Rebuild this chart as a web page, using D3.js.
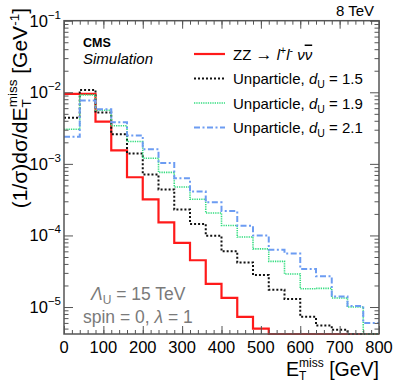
<!DOCTYPE html>
<html>
<head>
<meta charset="utf-8">
<script src="https://cdn.jsdelivr.net/npm/d3@7"></script>
<style>
body { margin: 0; background: #fff; }
svg { display: block; font-family: "Liberation Sans", Arial, Helvetica, sans-serif; }
</style>
</head>
<body>
<script>
// bin edges in GeV (40 GeV bins)
var binEdges = [0, 40, 80, 120, 160, 200, 240, 280, 320, 360, 400, 440, 480, 520, 560, 600, 640, 680, 720, 760, 800]

// normalised distributions, one value per bin (0 = nothing in the bin)
var zzValues = [9.5e-3, 9.5e-3, 3.9e-3, 1.54e-3, 6.5e-4, 3.2e-4, 1.52e-4, 7.9e-5, 4.5e-5, 2.1e-5, 1.34e-5, 7.3e-6, 5.0e-6, 0, 0, 0, 0, 0, 0, 0]
var unp15Values = [4.4e-3, 1.08e-2, 5.2e-3, 2.6e-3, 1.4e-3, 7.1e-4, 4.4e-4, 2.3e-4, 1.45e-4, 9.9e-5, 6.0e-5, 4.2e-5, 2.8e-5, 1.75e-5, 1.3e-5, 7.3e-6, 5.5e-6, 4.8e-6, 0, 0]
var unp19Values = [3.05e-3, 9.2e-3, 5.6e-3, 3.4e-3, 2.05e-3, 1.2e-3, 7.6e-4, 4.75e-4, 3.2e-4, 2.06e-4, 1.38e-4, 9.5e-5, 6.5e-5, 4.35e-5, 2.9e-5, 1.8e-5, 1.82e-5, 1.34e-5, 1.0e-5, 0]
var unp21Values = [2.4e-3, 7.7e-3, 5.8e-3, 3.8e-3, 2.5e-3, 1.6e-3, 1.03e-3, 6.3e-4, 4.1e-4, 2.9e-4, 2.2e-4, 1.37e-4, 1.0e-4, 6.3e-5, 5.6e-5, 3.4e-5, 2.7e-5, 1.4e-5, 1.03e-5, 6.0e-6]

var xTicks = [0, 100, 200, 300, 400, 500, 600, 700, 800]
var yDecades = [-1, -2, -3, -4, -5]

var width = 399, height = 385
// frame edges (window.top is reserved, so prefixed names)
var frameL = 64, frameR = 379, frameT = 20.7, frameB = 334
var axisColor = "#555"

var svg = d3.select("body")
.append("svg")
.attr("width", width)
.attr("height", height)

var xScale = d3.scaleLinear()
.domain([0, 800])
.range([frameL, frameR])

var yScale = d3.scaleLog()
.domain([4.2e-6, 0.1])
.range([frameB, frameT])

svg.append("defs").append("clipPath")
	.attr("id", "plotClip")
	.append("rect")
		.attr("x", frameL)
		.attr("y", frameT - 1)
		.attr("width", frameR - frameL)
		.attr("height", frameB - frameT + 2)

function yOf(v) {
	// empty bins are drawn on the bottom edge like ROOT does
	if (v <= 0 || v < yScale.domain()[0]) return frameB
	return yScale(v)
}

function stepPoints(values) {
	var pts = []
	values.forEach(function(v, i) {
		pts.push([xScale(binEdges[i]), yOf(v)])
		pts.push([xScale(binEdges[i + 1]), yOf(v)])
	})
	return pts
}

var series = [
	{values: zzValues, color: "#ff1a1a", width: 2.2, dash: null},
	{values: unp15Values, color: "#111", width: 2, dash: "2,2"},
	{values: unp19Values, color: "#35dd80", width: 1.6, dash: "1.3,1"},
	{values: unp21Values, color: "#6c9cf2", width: 2, dash: "6,2.5,2,2.5"}
]

var line = d3.line()

svg.append("g")
.attr("clip-path", "url(#plotClip)")
.selectAll("path")
.data(series)
.enter()
.append("path")
.attr("d", function(s) { return line(stepPoints(s.values)) })
.attr("fill", "none")
.attr("stroke", function(s) { return s.color })
.attr("stroke-width", function(s) { return s.width })
.attr("stroke-dasharray", function(s) { return s.dash })

//axes: bottom/top and left/right with ROOT style ticks inside the frame
var xMinor = d3.range(0, 801, 20)
var bottomAxis = d3.axisBottom(xScale).tickValues(xTicks).tickSize(-8).tickFormat("")
var topAxis = d3.axisTop(xScale).tickValues(xTicks).tickSize(-8).tickFormat("")
var bottomMinor = d3.axisBottom(xScale).tickValues(xMinor).tickSize(-4).tickFormat("")
var topMinor = d3.axisTop(xScale).tickValues(xMinor).tickSize(-4).tickFormat("")

var yMajor = yDecades.map(function(d) { return Math.pow(10, d) })
var yMinor = []
for (var e = -6; e < -1; e++) {
	for (var m = 2; m < 10; m++) {
		var v = m * Math.pow(10, e)
		if (v >= yScale.domain()[0] && v <= 0.1) yMinor.push(v)
	}
}
var leftAxis = d3.axisLeft(yScale).tickValues(yMajor).tickSize(-9).tickFormat("")
var rightAxis = d3.axisRight(yScale).tickValues(yMajor).tickSize(-9).tickFormat("")
var leftMinor = d3.axisLeft(yScale).tickValues(yMinor).tickSize(-4.5).tickFormat("")
var rightMinor = d3.axisRight(yScale).tickValues(yMinor).tickSize(-4.5).tickFormat("")

function addAxis(ax, tx, ty) {
	var g = svg.append("g")
	.attr("transform", "translate(" + tx + "," + ty + ")")
	.call(ax)
	g.select(".domain").remove()
	g.selectAll("line").attr("stroke", axisColor).attr("stroke-width", 1)
}
addAxis(bottomAxis, 0, frameB)
addAxis(bottomMinor, 0, frameB)
addAxis(topAxis, 0, frameT)
addAxis(topMinor, 0, frameT)
addAxis(leftAxis, frameL, 0)
addAxis(leftMinor, frameL, 0)
addAxis(rightAxis, frameR, 0)
addAxis(rightMinor, frameR, 0)

svg.append("rect")
.attr("x", frameL)
.attr("y", frameT)
.attr("width", frameR - frameL)
.attr("height", frameB - frameT)
.attr("fill", "none")
.attr("stroke", axisColor)
.attr("stroke-width", 1.5)

//tick labels
svg.selectAll(".xLabel")
.data(xTicks)
.enter()
.append("text")
.attr("class", "xLabel")
.attr("x", function(d) { return xScale(d) })
.attr("y", 353)
.attr("text-anchor", "middle")
.attr("font-size", 16.5)
.text(function(d) { return d })

var yLabels = svg.selectAll(".yLabel")
.data(yDecades)
.enter()
.append("text")
.attr("class", "yLabel")
.attr("x", 61)
.attr("y", function(d) { return yScale(Math.pow(10, d)) + 6 })
.attr("text-anchor", "end")
.attr("font-size", 16.5)
yLabels.append("tspan").text("10")
yLabels.append("tspan")
.attr("font-size", 11.5)
.attr("dy", -8)
.text(function(d) { return "\u2212" + (-d) })

//axis titles
var xTitle = svg.append("text")
.attr("x", frameR)
.attr("y", 375.5)
.attr("text-anchor", "end")
.attr("font-size", 19.5)
xTitle.append("tspan").text("E")
xTitle.append("tspan").attr("font-size", 12).attr("dy", 4).text("T")
xTitle.append("tspan").attr("font-size", 12).attr("dx", -7.3).attr("dy", -13).text("miss")
xTitle.append("tspan").attr("dy", 9).text(" [GeV]")

var yTitle = svg.append("text")
.attr("transform", "translate(26.5,8) rotate(-90)")
.attr("text-anchor", "end")
.attr("font-size", 21)
yTitle.append("tspan").text("(1/\u03c3)d\u03c3/dE")
yTitle.append("tspan").attr("font-size", 13.5).attr("dy", 4).text("T")
yTitle.append("tspan").attr("font-size", 13.5).attr("dx", -8).attr("dy", -14).text("miss")
yTitle.append("tspan").attr("dy", 10).text(" [GeV")
yTitle.append("tspan").attr("font-size", 13.5).attr("dy", -8).text("-1")
yTitle.append("tspan").attr("dy", 8).text("]")

//labels
svg.append("text")
.attr("x", 374)
.attr("y", 15.5)
.attr("text-anchor", "end")
.attr("font-size", 15)
.text("8 TeV")

svg.append("text")
.attr("x", 83)
.attr("y", 47)
.attr("font-size", 12.5)
.attr("font-weight", "bold")
.text("CMS")

svg.append("text")
.attr("x", 83)
.attr("y", 64)
.attr("font-size", 15)
.attr("font-style", "italic")
.text("Simulation")

var lam = svg.append("text")
.attr("x", 91)
.attr("y", 300)
.attr("font-size", 17.5)
.attr("fill", "#7a7a7a")
lam.append("tspan").attr("font-style", "italic").text("\u039b")
lam.append("tspan").attr("font-size", 12).attr("dy", 4).text("U")
lam.append("tspan").attr("dy", -4).text(" = 15 TeV")

var spin = svg.append("text")
.attr("x", 83)
.attr("y", 323)
.attr("font-size", 17.5)
.attr("fill", "#7a7a7a")
spin.append("tspan").text("spin = 0, ")
spin.append("tspan").attr("font-style", "italic").text("\u03bb")
spin.append("tspan").text(" = 1")

//legend
var legendNames = ["zz", "1.5", "1.9", "2.1"]
var legendY = [54, 78.5, 103, 127.5]

var legend = svg.selectAll(".legendItem")
.data(series)
.enter()
.append("g")
.attr("class", "legendItem")
.attr("transform", function(s, i) { return "translate(0," + legendY[i] + ")" })

legend.append("line")
.attr("x1", 194)
.attr("x2", 225)
.attr("stroke", function(s) { return s.color })
.attr("stroke-width", function(s) { return s.width })
.attr("stroke-dasharray", function(s) { return s.dash })

legend.each(function(s, i) {
	var t = d3.select(this).append("text")
	.attr("x", 233)
	.attr("y", 5.5)
	.attr("font-size", 15)
	if (legendNames[i] === "zz") {
		t.append("tspan").text("ZZ ")
		t.append("tspan").attr("font-size", 17).text("\u2192")
		t.append("tspan").text(" ")
		t.append("tspan").attr("font-style", "italic").text("l")
		t.append("tspan").attr("font-size", 10.5).attr("dy", -6).text("+")
		t.append("tspan").attr("font-style", "italic").attr("dy", 6).text("l")
		t.append("tspan").attr("font-size", 10.5).attr("dy", -6).text("-")
		t.append("tspan").attr("font-style", "italic").attr("dy", 6).text(" \u03bd")
		t.append("tspan").attr("font-style", "italic").attr("text-decoration", "overline").text("\u03bd")
	} else {
		t.append("tspan").text("Unparticle, ")
		t.append("tspan").attr("font-style", "italic").text("d")
		t.append("tspan").attr("font-size", 10.5).attr("dy", 4).text("U")
		t.append("tspan").attr("dy", -4).text(" = " + legendNames[i])
	}
})
</script>
</body>
</html>
